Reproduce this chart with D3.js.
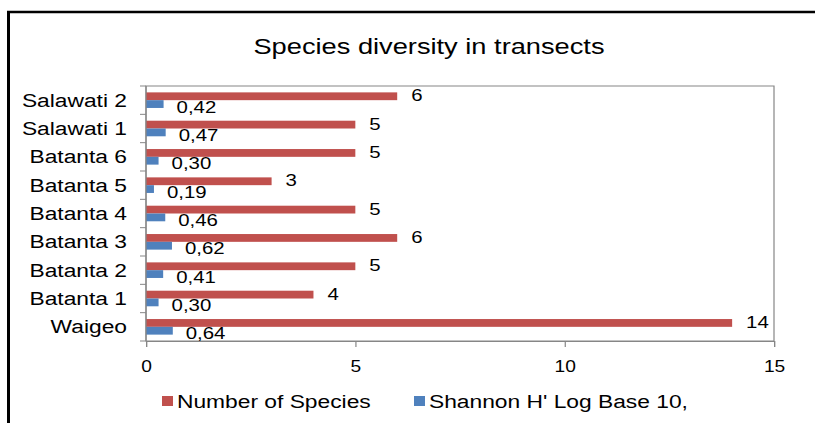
<!DOCTYPE html>
<html>
  <head>
    <meta charset="utf-8">
    <style>
      body { margin: 0; background: #fff; }
      svg text { font-family: "Liberation Sans", Arial, sans-serif; fill: #000; }
    </style>
  </head>
  <body>
    <div id="chart"></div>
  </body>
  <script src="https://cdn.jsdelivr.net/npm/d3@7/dist/d3.min.js"></script>
  <script type="text/javascript">
    // data, bottom to top as in the picture
    var sites = ["Waigeo", "Batanta 1", "Batanta 2", "Batanta 3", "Batanta 4",
                 "Batanta 5", "Batanta 6", "Salawati 1", "Salawati 2"];
    var species = [14, 4, 5, 6, 5, 3, 5, 5, 6];
    var shannon = [0.64, 0.30, 0.41, 0.62, 0.46, 0.19, 0.30, 0.47, 0.42];
    var seriesNames = ["Number of Species", "Shannon H' Log Base 10,"];
    var seriesColors = ["#C0504D", "#4F81BD"];
    var xTicks = [0, 5, 10, 15];

    var width = 815, height = 423;
    // the reference looks stretched sideways, so draw narrow and scale x
    var sx = 1.2;
    function px(v) { return v / sx; }

    var svg = d3.select("#chart").append("svg")
      .attr("width", width)
      .attr("height", height);

    var g = svg.append("g").attr("transform", "scale(" + sx + ",1)");

    // outer chart frame (only left and top show)
    g.append("line")
      .attr("x1", px(8.5)).attr("x2", px(8.5))
      .attr("y1", 11).attr("y2", height)
      .attr("stroke", "#000").attr("stroke-width", 2.5);
    g.append("line")
      .attr("x1", px(7)).attr("x2", px(width))
      .attr("y1", 12).attr("y2", 12)
      .attr("stroke", "#000").attr("stroke-width", 2.5);

    var plotLeft = px(146), plotRight = px(774), plotTop = 86, plotBottom = 341;

    var x = d3.scaleLinear().domain([0, 15]).range([plotLeft, plotRight]);
    var y = d3.scaleBand()
      .domain(sites.slice().reverse())
      .range([plotTop, plotBottom])
      .paddingInner(0.45)
      .paddingOuter(0.225);
    var sub = d3.scaleBand().domain([0, 1]).range([0, y.bandwidth()]);

    // title
    g.append("text")
      .attr("x", px(429))
      .attr("y", 54)
      .attr("text-anchor", "middle")
      .style("font-size", "22.7px")
      .text("Species diversity in transects");

    // plot area border
    g.append("rect")
      .attr("x", plotLeft)
      .attr("y", plotTop)
      .attr("width", plotRight - plotLeft)
      .attr("height", plotBottom - plotTop)
      .attr("fill", "none")
      .attr("stroke", "#868686")
      .attr("stroke-width", 1);

    // bars
    var rows = sites.map(function(s, i) {
      return { site: s, vals: [species[i], shannon[i]] };
    });

    var grp = g.append("g").selectAll("g")
      .data(rows)
      .enter().append("g")
      .attr("transform", function(d) { return "translate(0," + y(d.site) + ")"; });

    grp.selectAll("rect")
      .data(function(d) { return d.vals; })
      .enter().append("rect")
      .attr("x", x(0))
      .attr("y", function(d, i) { return sub(i); })
      .attr("width", function(d) { return x(d) - x(0); })
      .attr("height", sub.bandwidth())
      .attr("fill", function(d, i) { return seriesColors[i]; });

    var fmt = d3.format(".2f");
    grp.selectAll("text")
      .data(function(d) { return d.vals; })
      .enter().append("text")
      .attr("x", function(d, i) { return x(d) + px(i === 0 ? 14 : 13); })
      .attr("y", function(d, i) { return sub(i) + sub.bandwidth() / 2 + (i === 0 ? 5 : 8.5); })
      .style("font-size", "17px")
      .text(function(d, i) { return i === 0 ? d : fmt(d).replace(".", ","); });

    // y axis
    var yAxis = g.append("g")
      .attr("transform", "translate(" + plotLeft + ",0)");
    yAxis.append("line")
      .attr("x1", 0).attr("x2", 0)
      .attr("y1", plotTop).attr("y2", plotBottom)
      .attr("stroke", "#868686");
    var bounds = d3.range(sites.length + 1).map(function(i) {
      return plotTop + i * y.step();
    });
    yAxis.selectAll("line.tick")
      .data(bounds)
      .enter().append("line")
      .attr("class", "tick")
      .attr("x1", -px(6)).attr("x2", 0)
      .attr("y1", function(d) { return d; })
      .attr("y2", function(d) { return d; })
      .attr("stroke", "#868686");
    yAxis.selectAll("text")
      .data(sites)
      .enter().append("text")
      .attr("x", px(127) - plotLeft)
      .attr("y", function(d) { return y(d) + y.bandwidth() / 2 + 6.5; })
      .attr("text-anchor", "end")
      .style("font-size", "19px")
      .text(function(d) { return d; });

    // x axis
    var xAxis = g.append("g")
      .attr("transform", "translate(0," + plotBottom + ")")
      .call(d3.axisBottom(x).tickValues(xTicks).tickSize(6).tickPadding(14));
    xAxis.select(".domain").attr("stroke", "#868686");
    xAxis.selectAll(".tick line").attr("stroke", "#868686");
    xAxis.selectAll(".tick text")
      .style("font-size", "16px")
      .style("font-family", "\"Liberation Sans\", Arial, sans-serif")
      .attr("fill", "#000");

    // legend
    var legX = [px(162), px(414)];
    var leg = g.append("g").selectAll("g")
      .data(seriesNames)
      .enter().append("g")
      .attr("transform", function(d, i) { return "translate(" + legX[i] + ",396)"; });
    leg.append("rect")
      .attr("width", px(11))
      .attr("height", 10)
      .attr("fill", function(d, i) { return seriesColors[i]; });
    leg.append("text")
      .attr("x", px(15))
      .attr("y", 12)
      .style("font-size", "19px")
      .text(function(d) { return d; });
  </script>
</html>
